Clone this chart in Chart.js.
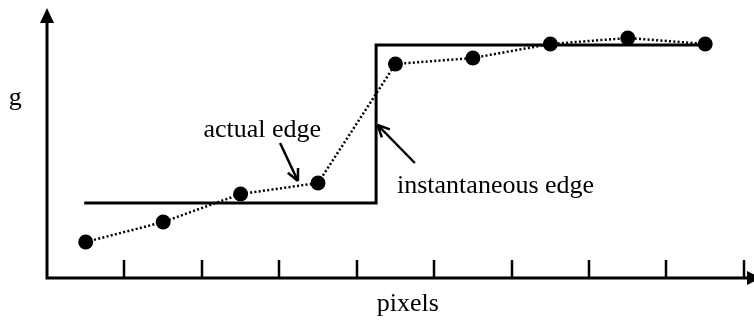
<!DOCTYPE html>
<html>
<head>
<meta charset="utf-8">
<script src="https://cdn.jsdelivr.net/npm/chart.js@4/dist/chart.umd.min.js"></script>
<style>
  html, body { margin: 0; padding: 0; background: #fff; }
  #wrap { width: 754px; height: 321px; }
</style>
</head>
<body>
<div id="wrap"><canvas id="edge-chart"></canvas></div>
<script>
// Sampled pixels: centres sit halfway between the pixel boundaries
const sampleX = [0.5, 1.5, 2.5, 3.5, 4.5, 5.5, 6.5, 7.5, 8.5];
const sampleG = [36, 56, 84, 95, 214, 220, 234, 240, 234];

// Ideal (instantaneous) step edge
const edgeX = [0.5, 4.25, 4.25, 8.5];
const edgeG = [75, 75, 233, 233];

// Pixel boundaries marked on the x axis
const pixelTicks = [1, 2, 3, 4, 5, 6, 7, 8, 9];

const FONT = '26px "Liberation Serif", "Times New Roman", serif';

// Text labels and pointer arrows, in data units
const labels = [
    { text: 'g', x: -0.41, y: 180, align: 'center', base: 'middle' },
    { text: 'pixels', x: 4.66, y: -33, align: 'center', base: 'alphabetic' },
    { text: 'actual edge', x: 2.02, y: 141, align: 'left', base: 'alphabetic' },
    { text: 'instantaneous edge', x: 4.52, y: 85, align: 'left', base: 'alphabetic' },
];
const pointers = [
    { from: [3.01, 135], to: [3.24, 97] },
    { from: [4.75, 115], to: [4.27, 153] },
];

function toPts(xs, ys) {
    return xs.map((x, i) => ({ x, y: ys[i] }));
}

/**
 * Axes with arrow heads, inner tick marks, labels and pointers
 */
const decorations = {
    id: 'decorations',
    afterDraw(chart) {
        const { ctx, chartArea: a, scales: { x, y } } = chart;
        const x0 = x.getPixelForValue(0);
        const y0 = y.getPixelForValue(0);
        ctx.save();
        ctx.strokeStyle = '#000';
        ctx.fillStyle = '#000';
        ctx.lineCap = 'butt';

        // axes
        ctx.lineWidth = 3;
        ctx.beginPath();
        ctx.moveTo(x0, y0 + 1.5);
        ctx.lineTo(x0, a.top + 12);
        ctx.moveTo(x0 - 1.5, y0);
        ctx.lineTo(a.right - 6, y0);
        ctx.stroke();

        // arrow heads
        ctx.beginPath();
        ctx.moveTo(x0, a.top);
        ctx.lineTo(x0 - 7, a.top + 15);
        ctx.lineTo(x0 + 7, a.top + 15);
        ctx.closePath();
        ctx.fill();
        ctx.beginPath();
        ctx.moveTo(a.right + 7, y0);
        ctx.lineTo(a.right - 7, y0 - 7);
        ctx.lineTo(a.right - 7, y0 + 7);
        ctx.closePath();
        ctx.fill();

        // tick marks pointing up into the plot
        ctx.lineWidth = 2.5;
        ctx.beginPath();
        pixelTicks.forEach(t => {
            const px = Math.round(x.getPixelForValue(t));
            ctx.moveTo(px, y0);
            ctx.lineTo(px, y0 - 18);
        });
        ctx.stroke();

        // pointers with open heads
        ctx.lineWidth = 2.5;
        pointers.forEach(p => {
            const fx = x.getPixelForValue(p.from[0]), fy = y.getPixelForValue(p.from[1]);
            const tx = x.getPixelForValue(p.to[0]), ty = y.getPixelForValue(p.to[1]);
            const ang = Math.atan2(ty - fy, tx - fx);
            ctx.beginPath();
            ctx.moveTo(fx, fy);
            ctx.lineTo(tx, ty);
            [-0.45, 0.45].forEach(d => {
                ctx.moveTo(tx, ty);
                ctx.lineTo(tx - 13 * Math.cos(ang + d), ty - 13 * Math.sin(ang + d));
            });
            ctx.stroke();
        });

        // text
        ctx.font = FONT;
        labels.forEach(l => {
            ctx.textAlign = l.align;
            ctx.textBaseline = l.base;
            ctx.fillText(l.text, x.getPixelForValue(l.x), y.getPixelForValue(l.y));
        });
        ctx.restore();
    }
};

new Chart(document.getElementById('edge-chart'), {
    type: 'scatter',
    data: {
        datasets: [
            {
                label: 'instantaneous edge',
                data: toPts(edgeX, edgeG),
                showLine: true,
                borderColor: '#000',
                borderWidth: 3,
                pointRadius: 0,
                borderCapStyle: 'square',
                borderJoinStyle: 'miter',
                tension: 0,
            },
            {
                label: 'actual edge',
                data: toPts(sampleX, sampleG),
                showLine: true,
                borderColor: '#000',
                borderWidth: 2.5,
                borderDash: [2, 2.3],
                pointRadius: 7.5,
                pointBackgroundColor: '#000',
                pointBorderWidth: 0,
                tension: 0,
            }
        ]
    },
    options: {
        responsive: true,
        maintainAspectRatio: false,
        animation: false,
        layout: { autoPadding: false, padding: { left: 47, right: 0, top: 8, bottom: 43 } },
        plugins: { legend: { display: false }, tooltip: { enabled: false } },
        scales: {
            x: { type: 'linear', min: 0, max: 9.13, display: false },
            y: { type: 'linear', min: 0, max: 270, display: false }
        }
    },
    plugins: [decorations]
});
</script>
</body>
</html>
